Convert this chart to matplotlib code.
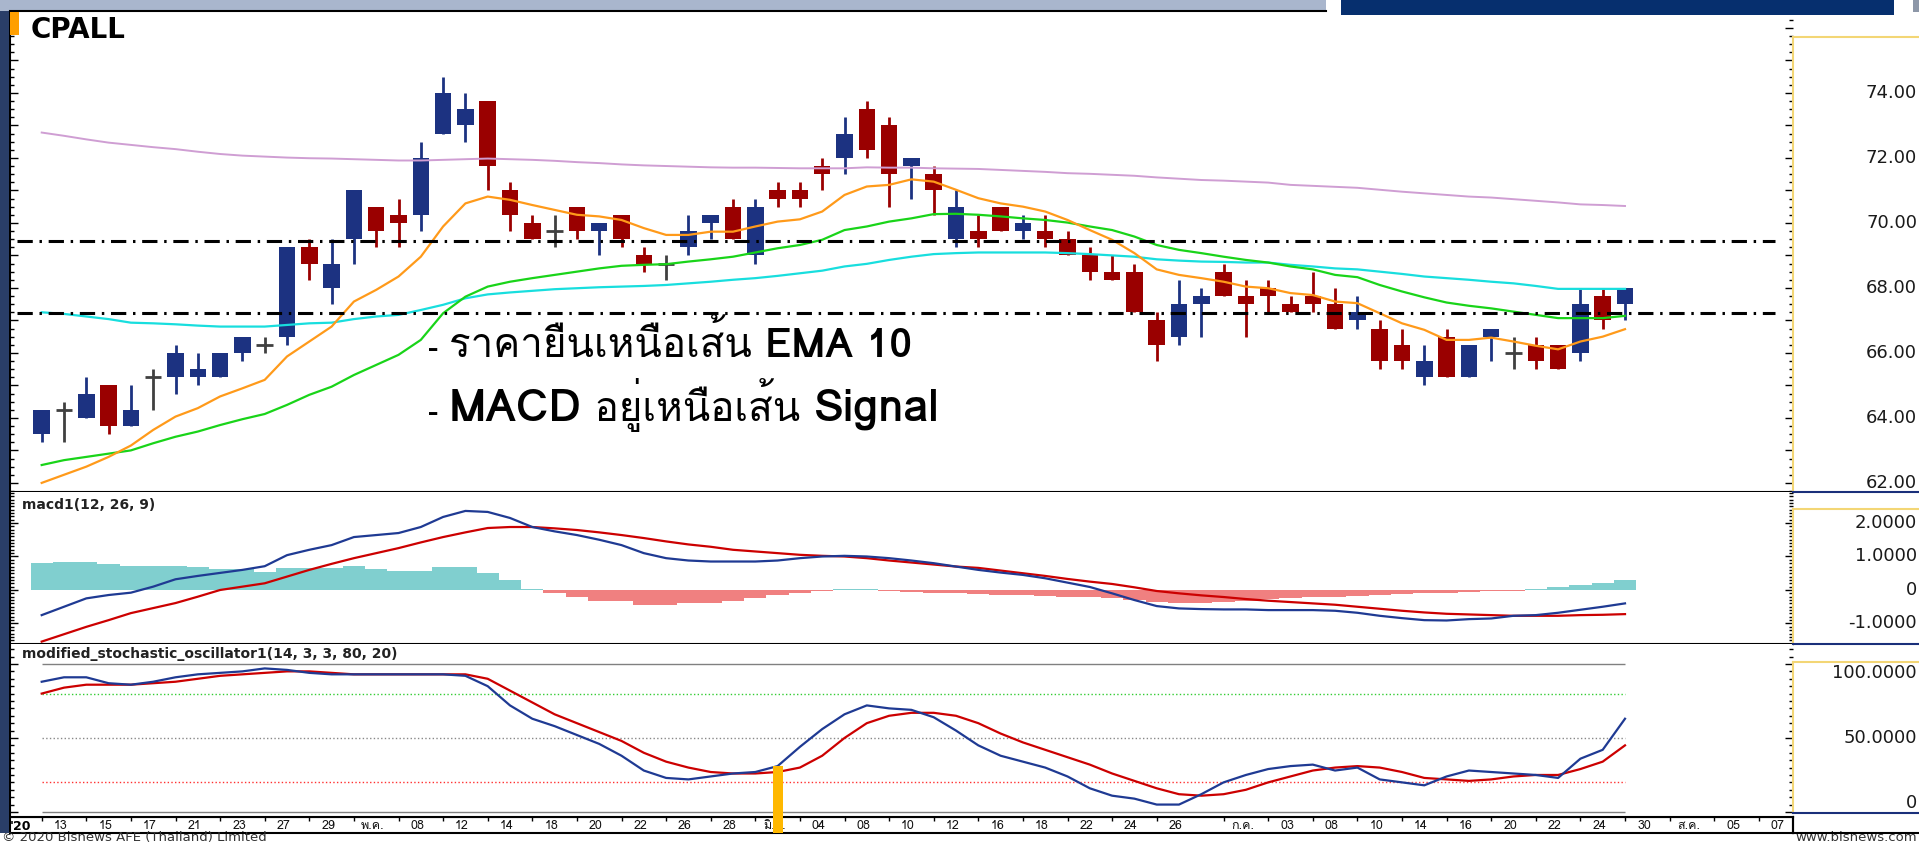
import matplotlib
matplotlib.use("Agg")
import matplotlib.pyplot as plt
import matplotlib.transforms as mtransforms
import numpy as np
from matplotlib import font_manager, ft2font
from matplotlib.lines import Line2D
from matplotlib.patches import Rectangle
from matplotlib.ticker import MultipleLocator, NullFormatter

# ---- data ---------------------------------------------------------------------------
opens = [63.50, 64.25, 64.00, 65.00, 63.75, 65.25, 65.25, 65.25, 65.25, 66.00,
         66.25, 66.50, 69.25, 68.00, 69.50, 70.50, 70.25, 70.25, 72.75, 73.00,
         73.75, 71.00, 70.00, 69.75, 70.50, 69.75, 70.25, 69.00, 68.75, 69.25,
         70.00, 70.50, 69.00, 71.00, 71.00, 71.75, 72.00, 73.50, 73.00, 71.75,
         71.50, 69.50, 69.75, 70.50, 69.75, 69.75, 69.50, 69.00, 68.50, 68.50,
         67.00, 66.50, 67.50, 68.50, 67.75, 68.00, 67.50, 67.75, 67.50, 67.00,
         66.75, 66.25, 65.25, 66.50, 65.25, 66.50, 66.00, 66.25, 66.25, 66.00,
         67.75, 67.50]
highs = [64.25, 64.50, 65.25, 65.00, 65.00, 65.50, 66.25, 66.00, 66.00, 66.50,
         66.50, 69.25, 69.50, 69.50, 71.00, 70.50, 70.75, 72.50, 74.50, 74.00,
         73.75, 71.25, 70.25, 70.25, 70.50, 70.00, 70.25, 69.25, 69.00, 70.25,
         70.25, 70.75, 70.75, 71.25, 71.25, 72.00, 73.25, 73.75, 73.25, 72.00,
         71.75, 71.00, 70.25, 70.50, 70.25, 70.25, 69.75, 69.25, 69.00, 68.75,
         67.25, 68.25, 68.00, 68.75, 68.25, 68.25, 67.75, 68.50, 68.00, 67.75,
         67.00, 66.75, 66.25, 66.75, 66.25, 66.75, 66.50, 66.50, 66.25, 68.00,
         68.00, 68.00]
lows = [63.25, 63.25, 64.00, 63.50, 63.75, 64.25, 64.75, 65.00, 65.25, 65.75,
        66.00, 66.25, 68.25, 67.50, 68.75, 69.25, 69.25, 69.75, 72.75, 72.50,
        71.00, 69.75, 69.50, 69.25, 69.50, 69.00, 69.25, 68.50, 68.25, 69.00,
        69.50, 69.50, 68.75, 70.50, 70.50, 71.00, 71.50, 72.00, 70.50, 70.75,
        70.25, 69.25, 69.25, 69.75, 69.50, 69.25, 69.00, 68.25, 68.25, 67.25,
        65.75, 66.25, 66.50, 67.75, 66.50, 67.25, 67.25, 67.25, 66.75, 66.75,
        65.50, 65.50, 65.00, 65.25, 65.25, 65.75, 65.50, 65.50, 65.50, 65.75,
        66.75, 67.00]
closes = [64.25, 64.25, 64.75, 63.75, 64.25, 65.25, 66.00, 65.50, 66.00, 66.50,
          66.25, 69.25, 68.75, 68.75, 71.00, 69.75, 70.00, 72.00, 74.00, 73.50,
          71.75, 70.25, 69.50, 69.75, 69.75, 70.00, 69.50, 68.75, 68.75, 69.75,
          70.25, 69.50, 70.50, 70.75, 70.75, 71.50, 72.75, 72.25, 71.50, 72.00,
          71.00, 70.50, 69.50, 69.75, 70.00, 69.50, 69.00, 68.50, 68.25, 67.25,
          66.25, 67.50, 67.75, 67.75, 67.50, 67.75, 67.25, 67.50, 66.75, 67.25,
          65.75, 65.75, 65.75, 65.25, 66.25, 66.75, 66.00, 65.75, 65.50, 67.50,
          67.00, 68.00]

ema_orange = [62.00, 62.25, 62.50, 62.80, 63.15, 63.63, 64.04, 64.30, 64.66, 64.91,
              65.17, 65.89, 66.35, 66.81, 67.58, 67.94, 68.35, 68.96, 69.89, 70.60,
              70.81, 70.71, 70.55, 70.40, 70.25, 70.20, 70.09, 69.84, 69.63, 69.63,
              69.73, 69.73, 69.89, 70.04, 70.11, 70.35, 70.86, 71.12, 71.17, 71.34,
              71.27, 71.02, 70.76, 70.60, 70.50, 70.35, 70.09, 69.78, 69.48, 69.07,
              68.57, 68.40, 68.30, 68.19, 68.04, 67.99, 67.84, 67.78, 67.58, 67.53,
              67.22, 66.91, 66.71, 66.40, 66.40, 66.47, 66.35, 66.22, 66.11, 66.35,
              66.50, 66.73]
ema_green = [62.55, 62.70, 62.80, 62.90, 63.00, 63.22, 63.42, 63.58, 63.78, 63.96,
             64.12, 64.40, 64.71, 64.96, 65.32, 65.63, 65.94, 66.40, 67.22, 67.73,
             68.04, 68.19, 68.30, 68.40, 68.50, 68.60, 68.68, 68.71, 68.73, 68.81,
             68.88, 68.96, 69.09, 69.22, 69.32, 69.48, 69.78, 69.89, 70.04, 70.14,
             70.27, 70.28, 70.25, 70.20, 70.14, 70.09, 70.01, 69.89, 69.78, 69.58,
             69.32, 69.17, 69.07, 68.96, 68.86, 68.78, 68.66, 68.57, 68.40, 68.33,
             68.09, 67.89, 67.71, 67.55, 67.45, 67.37, 67.27, 67.17, 67.07, 67.07,
             67.07, 67.14]
ema_cyan = [67.25, 67.20, 67.12, 67.04, 66.93, 66.91, 66.88, 66.84, 66.81, 66.81,
            66.81, 66.86, 66.91, 66.93, 67.04, 67.12, 67.17, 67.32, 67.48, 67.68,
            67.80, 67.86, 67.91, 67.96, 67.99, 68.02, 68.04, 68.06, 68.09, 68.14,
            68.19, 68.25, 68.30, 68.37, 68.45, 68.53, 68.66, 68.74, 68.86, 68.96,
            69.04, 69.07, 69.09, 69.09, 69.09, 69.09, 69.07, 69.04, 69.00, 68.96,
            68.88, 68.84, 68.81, 68.80, 68.78, 68.78, 68.71, 68.66, 68.60, 68.57,
            68.50, 68.43, 68.35, 68.30, 68.25, 68.19, 68.14, 68.06, 67.97, 67.97,
            67.97, 67.97]
sma_violet = [72.78, 72.68, 72.57, 72.47, 72.40, 72.33, 72.27, 72.19, 72.12, 72.07,
              72.04, 72.01, 71.99, 71.98, 71.96, 71.94, 71.92, 71.92, 71.94, 71.96,
              71.98, 71.96, 71.94, 71.91, 71.87, 71.84, 71.80, 71.77, 71.75, 71.73,
              71.71, 71.70, 71.70, 71.69, 71.68, 71.68, 71.68, 71.71, 71.70, 71.70,
              71.68, 71.67, 71.66, 71.63, 71.60, 71.57, 71.53, 71.51, 71.48, 71.45,
              71.40, 71.36, 71.32, 71.30, 71.27, 71.24, 71.17, 71.14, 71.11, 71.08,
              71.02, 70.96, 70.91, 70.86, 70.81, 70.78, 70.73, 70.68, 70.63, 70.57,
              70.55, 70.52]
levels = [69.43, 67.22]

macd_line = [-0.75, -0.50, -0.25, -0.15, -0.08, 0.10, 0.32, 0.42, 0.51, 0.60,
             0.71, 1.04, 1.20, 1.34, 1.58, 1.64, 1.70, 1.88, 2.18, 2.36,
             2.33, 2.15, 1.88, 1.75, 1.64, 1.50, 1.34, 1.10, 0.95, 0.88,
             0.85, 0.85, 0.85, 0.88, 0.95, 1.00, 1.02, 1.00, 0.95, 0.88,
             0.80, 0.70, 0.60, 0.52, 0.45, 0.35, 0.22, 0.09, -0.10, -0.30,
             -0.48, -0.55, -0.57, -0.58, -0.58, -0.60, -0.60, -0.60, -0.62, -0.68,
             -0.77, -0.84, -0.90, -0.91, -0.87, -0.85, -0.77, -0.75, -0.68, -0.59,
             -0.50, -0.40]
macd_signal = [-1.54, -1.32, -1.10, -0.90, -0.69, -0.54, -0.39, -0.20, 0.00, 0.10,
               0.20, 0.40, 0.60, 0.78, 0.95, 1.10, 1.25, 1.42, 1.58, 1.72,
               1.85, 1.88, 1.88, 1.84, 1.79, 1.72, 1.64, 1.55, 1.45, 1.36,
               1.29, 1.20, 1.15, 1.10, 1.05, 1.02, 1.00, 0.95, 0.88, 0.82,
               0.76, 0.70, 0.66, 0.58, 0.50, 0.42, 0.33, 0.25, 0.18, 0.08,
               -0.03, -0.10, -0.16, -0.21, -0.27, -0.32, -0.36, -0.40, -0.44, -0.50,
               -0.56, -0.62, -0.67, -0.71, -0.73, -0.75, -0.77, -0.77, -0.77, -0.75,
               -0.74, -0.72]
macd_hist = [0.80, 0.83, 0.85, 0.78, 0.72, 0.72, 0.72, 0.68, 0.62, 0.62,
             0.55, 0.67, 0.67, 0.67, 0.72, 0.62, 0.57, 0.57, 0.70, 0.70,
             0.50, 0.30, 0.02, -0.10, -0.22, -0.32, -0.32, -0.45, -0.45, -0.40,
             -0.38, -0.32, -0.25, -0.15, -0.08, -0.03, 0.02, 0.03, -0.02, -0.05,
             -0.08, -0.10, -0.12, -0.15, -0.15, -0.18, -0.20, -0.22, -0.25, -0.30,
             -0.35, -0.38, -0.38, -0.35, -0.32, -0.28, -0.25, -0.22, -0.20, -0.18,
             -0.15, -0.12, -0.10, -0.08, -0.05, -0.03, -0.02, 0.02, 0.08, 0.15,
             0.22, 0.30]

stoch_k = [88, 91, 91, 87, 86, 88, 91, 93, 94, 95,
           97, 96, 94, 93, 93, 93, 93, 93, 93, 92,
           85, 72, 63, 58, 52, 46, 38, 28, 23, 22,
           24, 26, 27, 31, 44, 56, 66, 72, 70, 69,
           64, 55, 45, 38, 34, 30, 24, 16, 11, 9,
           5, 5, 12, 20, 25, 29, 31, 32, 28, 30,
           22, 20, 18, 24, 28, 27, 26, 25, 23, 36,
           42, 63]
stoch_d = [80, 84, 86, 86, 86, 87, 88, 90, 92, 93,
           94, 95, 95, 94, 93, 93, 93, 93, 93, 93,
           90, 82, 74, 66, 60, 54, 48, 40, 34, 30,
           27, 26, 26, 27, 30, 38, 50, 60, 65, 67,
           67, 65, 60, 53, 47, 42, 37, 32, 26, 21,
           16, 12, 11, 12, 15, 20, 24, 28, 30, 31,
           30, 27, 23, 22, 21, 22, 24, 25, 25, 29,
           34, 45]
stoch_levels = [100, 80, 50, 20, 0]
signal_bar_idx = 33

price_ticks = [62, 64, 66, 68, 70, 72, 74]
macd_ticks = [2, 1, 0, -1]
stoch_ticks = [100, 50, 0]

date_idx = [0, 2, 4, 6, 8, 10, 12, 14, 16, 18, 20, 22, 24, 26, 28, 30, 32,
            34, 36, 38, 40, 42, 44, 46, 48, 50,
            53, 55, 57, 59, 61, 63, 65, 67, 69, 71, 73, 75, 77]
date_txt = ["13", "15", "17", "21", "23", "27", "29", "พ.ค.", "08", "12", "14", "18",
            "20", "22", "26", "28", "มิ.ย.", "04", "08", "10", "12", "16", "18", "22",
            "24", "26", "ก.ค.", "03", "08", "10", "14", "16", "20", "22", "24", "30",
            "ส.ค.", "05", "07"]

# ---- look ---------------------------------------------------------------------------
W, H = 1919, 844
X0_PX, PITCH = 41.7, 22.3            # first candle centre / candle spacing in pixels
PLOT_L, PLOT_R = 10, 1793
XLIM = ((PLOT_L - X0_PX) / PITCH, (PLOT_R - X0_PX) / PITCH)

BLUE, RED, GRAY = "#1c3281", "#9a0000", "#404040"
LINE_BLUE, LINE_RED = "#1f3a93", "#cc0000"
YELLOW, NAVY = "#f3d675", "#1a2f7a"


def thai_family():
    for f in font_manager.fontManager.ttflist:
        try:
            cmap = ft2font.FT2Font(f.fname).get_charmap()
        except Exception:
            continue
        if 0x0E32 in cmap and 0x0E40 in cmap and 0x0E19 in cmap:
            return f.name
    return None


THAI = thai_family()
FAM = [THAI, "DejaVu Sans"] if THAI else ["DejaVu Sans"]
plt.rcParams["font.family"] = FAM

fig = plt.figure(figsize=(W / 100, H / 100), dpi=100, facecolor="white")


def box(x0, y0, x1, y1):
    return fig.add_axes([x0 / W, 1 - y1 / H, (x1 - x0) / W, (y1 - y0) / H])


def fig_line(x0, y0, x1, y1, **kw):
    fig.add_artist(Line2D([x0 / W, x1 / W], [1 - y0 / H, 1 - y1 / H],
                          transform=fig.transFigure, **kw))


def fig_rect(x0, y0, x1, y1, color, z=5):
    fig.add_artist(Rectangle((x0 / W, 1 - y1 / H), (x1 - x0) / W, (y1 - y0) / H,
                             transform=fig.transFigure, facecolor=color, lw=0, zorder=z))


def style_panel(ax, minor, major):
    ax.set_xlim(*XLIM)
    ax.set_xticks([])
    for side in ("top", "right"):
        ax.spines[side].set_visible(False)
    for side in ("left", "bottom"):
        ax.spines[side].set_color("black")
        ax.spines[side].set_linewidth(1.5)
    ax.yaxis.set_major_locator(MultipleLocator(major))
    ax.yaxis.set_minor_locator(MultipleLocator(minor))
    ax.yaxis.set_major_formatter(NullFormatter())
    ax.tick_params(axis="y", which="both", direction="in", left=True, right=True,
                   labelleft=False, labelright=False, color="black", width=1)
    ax.tick_params(axis="y", which="major", length=6)
    ax.tick_params(axis="y", which="minor", length=3)


def right_labels(ax, ticks, fmt, shift=None):
    tr = mtransforms.blended_transform_factory(fig.transFigure, ax.transData)
    for i, v in enumerate(ticks):
        va = "center" if shift is None else shift[i]
        ax.text(1917 / W, v, fmt(v), transform=tr, ha="right", va=va,
                fontsize=13, color="#1a1a1a", family="DejaVu Sans", clip_on=False)


x = np.arange(len(opens))
o, h, l, c = map(np.asarray, (opens, highs, lows, closes))

# ---- price panel --------------------------------------------------------------------
ax = box(PLOT_L, 11, PLOT_R, 492)
ax.set_ylim(61.72, 76.52)
style_panel(ax, 0.25, 1.0)

up, dn = c > o, c < o
flat = ~(up | dn)
for mask, col in ((up, BLUE), (dn, RED), (flat, GRAY)):
    ax.vlines(x[mask], l[mask], h[mask], color=col, lw=2.0, zorder=3)
ax.bar(x[up], c[up] - o[up], bottom=o[up], width=0.74, color=BLUE, zorder=4)
ax.bar(x[dn], o[dn] - c[dn], bottom=c[dn], width=0.74, color=RED, zorder=4)
ax.hlines(c[flat], x[flat] - 0.37, x[flat] + 0.37, color=GRAY, lw=2.0, zorder=4)

ax.plot(x, sma_violet, color="#cf9ed3", lw=1.4, zorder=5)
ax.plot(x, ema_cyan, color="#18dede", lw=1.6, zorder=5)
ax.plot(x, ema_green, color="#19d419", lw=1.6, zorder=5)
ax.plot(x, ema_orange, color="#ff9a1a", lw=1.6, zorder=5)
for lv in levels:
    ax.plot([XLIM[0] + 0.3, XLIM[1] - 0.8], [lv, lv], color="black", lw=2.2,
            dashes=(5, 2.2, 0.8, 2.2), zorder=6)

ax.text(21 / (PLOT_R - PLOT_L), 0.99, "CPALL", transform=ax.transAxes,
        fontsize=20, fontweight="bold", family="DejaVu Sans", va="top", ha="left")
right_labels(ax, price_ticks, lambda v: f"{v:.2f}")

# ---- MACD panel ---------------------------------------------------------------------
am = box(PLOT_L, 492, PLOT_R, 644)
am.set_ylim(-1.612, 2.925)
style_panel(am, 0.1, 1.0)
hist = np.asarray(macd_hist)
am.bar(x, hist, width=1.0, color=np.where(hist >= 0, "#80cfcf", "#f08080"), lw=0, zorder=2)
am.plot(x, macd_signal, color=LINE_RED, lw=1.6, zorder=3)
am.plot(x, macd_line, color=LINE_BLUE, lw=1.6, zorder=4)
am.text(0.007, 0.96, "macd1(12, 26, 9)", transform=am.transAxes, fontsize=10,
        fontweight="bold", family="DejaVu Sans", va="top", ha="left", color="#222222")
right_labels(am, macd_ticks, lambda v: "0" if v == 0 else f"{v:.4f}")

# ---- date row -----------------------------------------------------------------------
ad = box(PLOT_L, 817, PLOT_R, 833)
ad.set_xlim(*XLIM)
ad.set_ylim(0, 1)
ad.set_facecolor("none")
ad.set_xticks(date_idx)
ad.set_xticklabels([])
ad.tick_params(axis="x", direction="in", top=True, bottom=False, length=3, width=1)
ad.set_yticks([])
for side in ad.spines.values():
    side.set_color("black")
    side.set_linewidth(1.5)
for i, t in zip(date_idx, date_txt):
    ad.text(i + 0.85, 0.42, t, fontsize=9, ha="center", va="center", color="#111111")
ad.text(-0.93, 0.42, "'20", fontsize=9, fontweight="bold", ha="center", va="center",
        family="DejaVu Sans")

# ---- stochastic panel ---------------------------------------------------------------
asx = box(PLOT_L, 644, PLOT_R, 817)
asx.set_ylim(-3.4, 113.5)
style_panel(asx, 5, 50)
lvl_style = {100: ("#808080", "-"), 80: ("#33cc33", ":"), 50: ("#888888", ":"),
             20: ("#ff3030", ":"), 0: ("#808080", "-")}
for lv in stoch_levels:
    col, ls = lvl_style[lv]
    asx.hlines(lv, x[0], x[-1], color=col, lw=1.0, linestyles=ls, zorder=1)
asx.plot(x, stoch_d, color=LINE_RED, lw=1.6, zorder=3)
asx.plot(x, stoch_k, color=LINE_BLUE, lw=1.6, zorder=4)
asx.add_patch(Rectangle((signal_bar_idx - 0.22, -14.2), 0.44, stoch_k[signal_bar_idx] + 14.2,
                        facecolor="#ffb800", lw=0, zorder=6, clip_on=False))
asx.text(0.007, 0.985, "modified_stochastic_oscillator1(14, 3, 3, 80, 20)",
         transform=asx.transAxes, fontsize=10, fontweight="bold", family="DejaVu Sans",
         va="top", ha="left", color="#222222")
right_labels(asx, stoch_ticks, lambda v: "0" if v == 0 else f"{v:.4f}",
             shift=["top", "center", "bottom"])

# ---- right scale boxes, frame, chrome -----------------------------------------------
for top, bot in ((37, 492), (509, 644), (662, 813)):
    fig_line(PLOT_R, top, W, top, color=YELLOW, lw=1.5, zorder=6)
    fig_line(PLOT_R, top, PLOT_R, bot, color=YELLOW, lw=1.5, zorder=6)
    fig_line(PLOT_R, bot, W, bot, color=NAVY, lw=1.5, zorder=6)
fig_line(PLOT_R, 817, PLOT_R, 833, color="black", lw=1.5, zorder=6)
fig_line(PLOT_R, 833, W, 833, color="black", lw=1.5, zorder=6)
fig_line(PLOT_L, 11, 1326, 11, color="black", lw=1.5, zorder=6)

fig_rect(0, 0, 9, 833, "#2a3e68")
fig_rect(0, 0, 1326, 11, "#a9b6cd")
fig_rect(1341, 0, 1894, 15, "#062f6e")
fig_rect(1913, 0, W, 12, "#8d97a8")
fig_rect(PLOT_L, 12, PLOT_L + 9, 35, "#ff9f00", z=7)

fig.text(2 / W, 0.0, "© 2020 Bisnews AFE (Thailand) Limited", fontsize=9.5,
         color="#333333", va="bottom", ha="left", family="DejaVu Sans")
fig.text(1917 / W, 0.0, "www.bisnews.com", fontsize=9.5, color="#333333",
         va="bottom", ha="right", family="DejaVu Sans")

# ---- annotation overlay -------------------------------------------------------------
renderer = fig.canvas.get_renderer()


def text_run(x_px, base_px, parts):
    for s, bold, size in parts:
        t = fig.text(x_px / W, 1 - base_px / H, s, fontsize=size,
                     fontweight="bold" if bold else "normal", family=FAM,
                     va="baseline", ha="left", color="black", zorder=10)
        x_px += t.get_window_extent(renderer).width


text_run(428, 357, [("- ", True, 22), ("ราคายืนเหนือเส้น ", False, 29), ("EMA 10", True, 29.5)])
text_run(428, 421, [("- ", True, 22), ("MACD", True, 32.5), (" อยู่เหนือเส้น ", False, 29),
                    ("Signal", True, 32.5)])

fig.savefig("out.png", dpi=100, facecolor="white")
